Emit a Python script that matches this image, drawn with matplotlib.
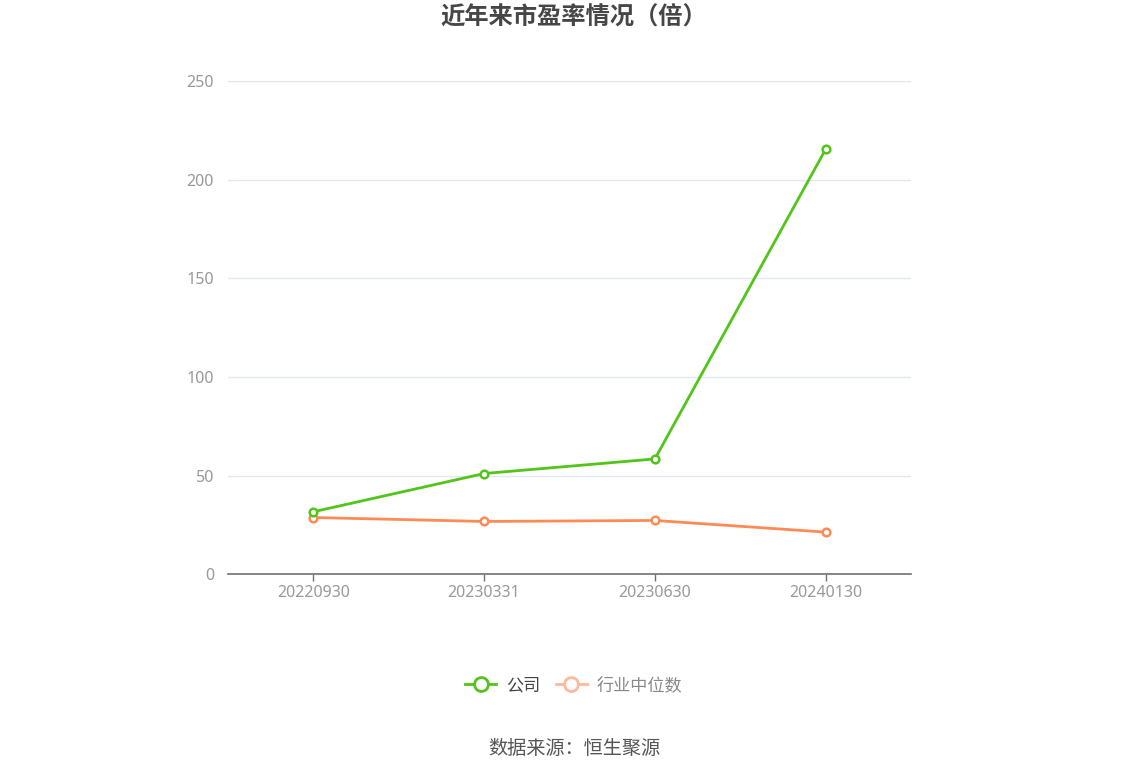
import matplotlib
matplotlib.use("Agg")
import matplotlib.pyplot as plt
from matplotlib.lines import Line2D

plt.rcParams['font.family'] = ['Noto Sans CJK SC', 'DejaVu Sans']

categories = ["20220930", "20230331", "20230630", "20240130"]
company = [31.7, 51.1, 58.5, 215.5]
industry = [28.8, 26.8, 27.3, 21.4]
yticks = [0, 50, 100, 150, 200, 250]

title = "近年来市盈率情况（倍）"
source = "数据来源：恒生聚源"
green = "#52C41A"
orange = "#FF8A55"

fig = plt.figure(figsize=(11.48, 7.76), dpi=100)
ax = fig.add_axes([228/1148, 1 - 574.3/776, (911-228)/1148, 493/776])

x = list(range(len(categories)))
ax.plot(x, company, color=green, lw=2, marker='o', ms=5.5, mfc='white',
        mec=green, mew=1.8, zorder=4)
ax.plot(x, industry, color=orange, lw=2, marker='o', ms=5.5, mfc='white',
        mec=orange, mew=1.8, zorder=3)

ax.set_xlim(-0.5, len(categories) - 0.5)
ax.set_ylim(0, 250)
ax.set_yticks(yticks)
ax.set_yticklabels([str(v) for v in yticks], family=['Noto Sans', 'DejaVu Sans'])
ax.set_xticks(x)
ax.set_xticklabels(categories, family=['Noto Sans', 'DejaVu Sans'])

ax.grid(axis='y', color='#E3E6EE', lw=1)
ax.set_axisbelow(True)
for s in ['top', 'right', 'left']:
    ax.spines[s].set_visible(False)
ax.spines['bottom'].set_color('#6E7079')
ax.spines['bottom'].set_linewidth(1.2)
ax.tick_params(axis='y', length=0, pad=10, labelsize=11.5, labelcolor='#999999')
ax.tick_params(axis='x', length=5, width=1, color='#6E7079', pad=3,
               labelsize=11.5, labelcolor='#999999')

fig.text(0.5, 1 - 18/776, title, ha='center', va='center', fontsize=17.5,
         fontweight='bold', color='#464646')

handles = [
    Line2D([0], [0], color=green, lw=2, marker='o', ms=10, mfc='white', mec=green, mew=2),
    Line2D([0], [0], color='#FFB89C', lw=2, marker='o', ms=10, mfc='white', mec='#FFB89C', mew=2),
]
leg = fig.legend(handles, ["公司", "行业中位数"], loc='center', bbox_to_anchor=(0.5, 1 - 685/776),
                 ncol=2, frameon=False, fontsize=12.3, handlelength=1.8, columnspacing=0.9,
                 handletextpad=0.6)
texts = leg.get_texts()
texts[0].set_color('#444444')
texts[1].set_color('#888888')

fig.text(0.5, 1 - 748/776, source, ha='center', va='center', fontsize=13.8, color='#555555')

fig.savefig("out.png", dpi=100)
